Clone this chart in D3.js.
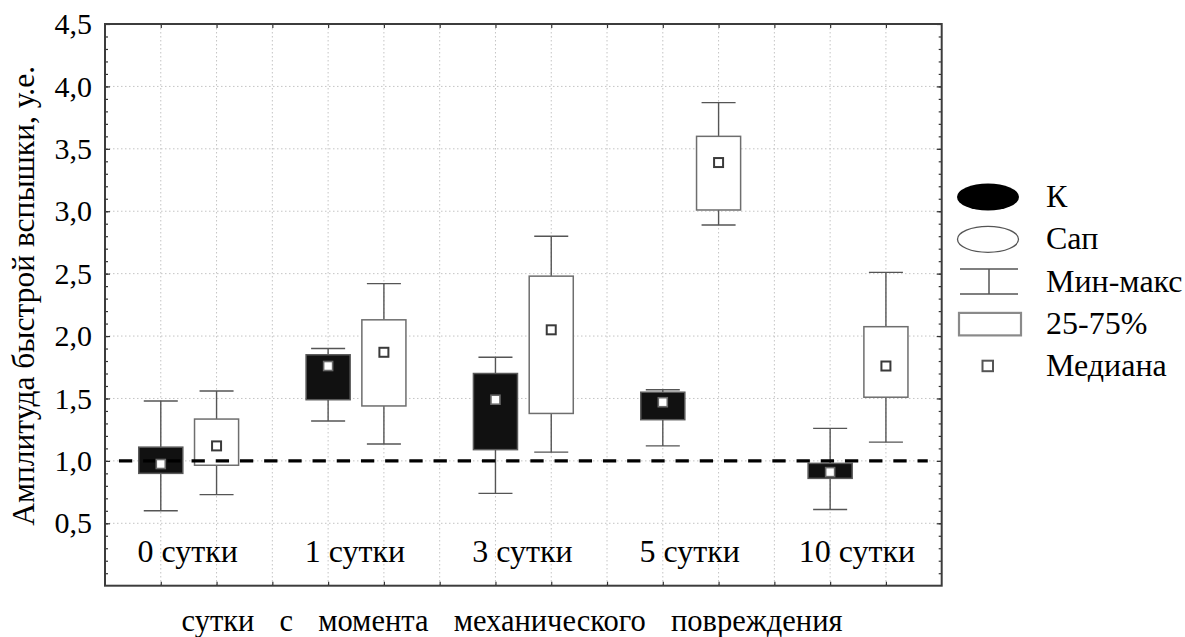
<!DOCTYPE html>
<html>
<head>
<meta charset="utf-8">
<script src="https://cdn.jsdelivr.net/npm/d3@7"></script>
<style>
  html, body { margin: 0; padding: 0; background: #fff; }
  svg { display: block; }
</style>
</head>
<body>
<svg id="chart" width="1185" height="637" font-family="Liberation Serif"></svg>
<script>
// Amplitude of the fast flash: control (К) vs. Сап groups, days after mechanical injury
const categories = ["0 сутки", "1 сутки", "3 сутки", "5 сутки", "10 сутки"];

const kMin = [0.60, 1.32, 0.74, 1.12, 0.61];
const kQ1  = [0.90, 1.49, 1.09, 1.33, 0.86];
const kMed = [0.975, 1.76, 1.49, 1.47, 0.91];
const kQ3  = [1.11, 1.85, 1.70, 1.55, 0.98];
const kMax = [1.48, 1.90, 1.83, 1.57, 1.26];

const sapMin = [0.73, 1.135, 1.07, 2.89, 1.15];
const sapQ1  = [0.965, 1.44, 1.38, 3.01, 1.51];
const sapMed = [1.12, 1.87, 2.05, 3.39, 1.76];
const sapQ3  = [1.335, 2.13, 2.48, 3.60, 2.075];
const sapMax = [1.56, 2.42, 2.80, 3.87, 2.51];

const yTicks = [0.5, 1.0, 1.5, 2.0, 2.5, 3.0, 3.5, 4.0, 4.5];
const referenceLevel = 1.0;

const legendLabels = ["К", "Сап", "Мин-макс", "25-75%", "Медиана"];
const yTitle = "Амплитуда быстрой вспышки, у.е.";
const xTitle = "сутки с момента механического повреждения";

const FONT = "Liberation Serif";

// ---- layout ----
const plot = { left: 105, right: 941.7, top: 24, bottom: 585.7 };
const slotsPerGroup = 3;                    // К, Сап, gap
const nSlots = categories.length * slotsPerGroup;

const x = d3.scaleLinear().domain([0, nSlots]).range([plot.left, plot.right]);
const y = d3.scaleLinear().domain([0, 4.5]).range([plot.bottom, plot.top]);

const boxW = x(0.79) - x(0);
const capW = x(0.61) - x(0);

const svg = d3.select("#chart");

// ---- grid ----
const grid = svg.append("g").attr("stroke", "#c4c4c4").attr("stroke-width", 1)
  .attr("stroke-dasharray", "1.5,2.5");
grid.selectAll("line.v").data(d3.range(1, nSlots)).join("line")
  .attr("class", "v")
  .attr("x1", d => x(d)).attr("x2", d => x(d))
  .attr("y1", plot.top).attr("y2", plot.bottom);
grid.selectAll("line.h").data(yTicks.filter(v => v < 4.5)).join("line")
  .attr("class", "h")
  .attr("x1", plot.left).attr("x2", plot.right)
  .attr("y1", d => y(d)).attr("y2", d => y(d));

// ---- series ----
const series = [
  { key: "К", offset: 1, min: kMin, q1: kQ1, med: kMed, q3: kQ3, max: kMax,
    fill: "#111", stroke: "#5a5a5a", medStroke: "#6a6a6a", medWidth: 1.6 },
  { key: "Сап", offset: 2, min: sapMin, q1: sapQ1, med: sapMed, q3: sapQ3, max: sapMax,
    fill: "#fff", stroke: "#6e6e6e", medStroke: "#3a3a3a", medWidth: 2 }
];

const rows = [];
series.forEach(s => categories.forEach((c, i) => rows.push({
  s, cx: x(i * slotsPerGroup + s.offset),
  min: s.min[i], q1: s.q1[i], med: s.med[i], q3: s.q3[i], max: s.max[i]
})));

const marks = svg.append("g");
const wh = marks.append("g").attr("stroke", "#555").attr("stroke-width", 1.4);
rows.forEach(r => {
  wh.append("line").attr("x1", r.cx).attr("x2", r.cx).attr("y1", y(r.max)).attr("y2", y(r.q3));
  wh.append("line").attr("x1", r.cx).attr("x2", r.cx).attr("y1", y(r.q1)).attr("y2", y(r.min));
  wh.append("line").attr("x1", r.cx - capW / 2).attr("x2", r.cx + capW / 2).attr("y1", y(r.max)).attr("y2", y(r.max));
  wh.append("line").attr("x1", r.cx - capW / 2).attr("x2", r.cx + capW / 2).attr("y1", y(r.min)).attr("y2", y(r.min));
});
marks.selectAll("rect.box").data(rows).join("rect")
  .attr("class", "box")
  .attr("x", d => d.cx - boxW / 2).attr("width", boxW)
  .attr("y", d => y(d.q3)).attr("height", d => y(d.q1) - y(d.q3))
  .attr("fill", d => d.s.fill).attr("stroke", d => d.s.stroke).attr("stroke-width", 1.5);

// reference level
svg.append("line")
  .attr("x1", x(0.25)).attr("x2", x(nSlots - 0.25))
  .attr("y1", y(referenceLevel)).attr("y2", y(referenceLevel))
  .attr("stroke", "#000").attr("stroke-width", 3.2).attr("stroke-dasharray", "13.3,10.9");

// medians
const medS = 9;
svg.append("g").selectAll("rect").data(rows).join("rect")
  .attr("x", d => d.cx - medS / 2).attr("y", d => y(d.med) - medS / 2)
  .attr("width", medS).attr("height", medS)
  .attr("fill", "#fff").attr("stroke", d => d.s.medStroke).attr("stroke-width", d => d.s.medWidth);

// ---- axes ----
const fmt = d => d.toFixed(1).replace(".", ",");
const minor = d3.range(1, 45).map(d => d / 10);

const axLeft = svg.append("g").attr("transform", `translate(${plot.left},0)`);
axLeft.call(d3.axisLeft(y).tickValues(minor).tickSize(-3).tickFormat(""));
axLeft.append("g").call(d3.axisLeft(y).tickValues(yTicks).tickSize(-5).tickPadding(13).tickFormat(fmt));

const axRight = svg.append("g").attr("transform", `translate(${plot.right},0)`);
axRight.call(d3.axisRight(y).tickValues(minor).tickSize(-3).tickFormat(""));
axRight.append("g").call(d3.axisRight(y).tickValues(yTicks).tickSize(-5).tickFormat(""));

const axTop = svg.append("g").attr("transform", `translate(0,${plot.top})`);
axTop.call(d3.axisTop(x).tickValues(d3.range(1, nSlots)).tickSize(-4).tickFormat(""));
const axBottom = svg.append("g").attr("transform", `translate(0,${plot.bottom})`);
axBottom.call(d3.axisBottom(x).tickValues(d3.range(1, nSlots)).tickSize(-4).tickFormat(""));

svg.selectAll(".domain").remove();
svg.selectAll(".tick line").attr("stroke", "#333").attr("stroke-width", 1.2);
svg.selectAll("g[font-family]").attr("font-family", FONT).attr("font-size", null);
axLeft.selectAll("text").attr("font-size", 30);

// frame
svg.append("rect")
  .attr("x", plot.left).attr("y", plot.top)
  .attr("width", plot.right - plot.left).attr("height", plot.bottom - plot.top)
  .attr("fill", "none").attr("stroke", "#3c3c3c").attr("stroke-width", 2);

// category labels
svg.append("g").selectAll("text").data(categories).join("text")
  .attr("x", (d, i) => x(i * slotsPerGroup + 1.5) - 1)
  .attr("y", 562)
  .attr("text-anchor", "middle")
  .attr("font-size", 32)
  .text(d => d);

// axis titles
svg.append("text")
  .attr("transform", `translate(34,${(plot.top + plot.bottom) / 2 - 9}) rotate(-90)`)
  .attr("text-anchor", "middle").attr("font-size", 31.5)
  .text(yTitle);

const xt = svg.append("text")
  .attr("x", 512).attr("y", 631)
  .attr("text-anchor", "middle").attr("font-size", 30.5)
  .text(xTitle);

// ---- legend ----
const lg = svg.append("g");
const rowY = i => 197 + i * 42.3;
const iconX = 988;
lg.append("ellipse").attr("cx", iconX).attr("cy", rowY(0)).attr("rx", 31).attr("ry", 13.5)
  .attr("fill", "#000");
lg.append("ellipse").attr("cx", iconX).attr("cy", rowY(1)).attr("rx", 30.5).attr("ry", 13)
  .attr("fill", "#fff").attr("stroke", "#555").attr("stroke-width", 1.3);
const mm = lg.append("g").attr("stroke", "#555").attr("stroke-width", 1.5);
mm.append("line").attr("x1", iconX - 28).attr("x2", iconX + 30).attr("y1", rowY(2) - 12.5).attr("y2", rowY(2) - 12.5);
mm.append("line").attr("x1", iconX - 28).attr("x2", iconX + 30).attr("y1", rowY(2) + 12.5).attr("y2", rowY(2) + 12.5);
mm.append("line").attr("x1", iconX + 1).attr("x2", iconX + 1).attr("y1", rowY(2) - 12.5).attr("y2", rowY(2) + 12.5);
lg.append("rect").attr("x", iconX - 29).attr("y", rowY(3) - 11).attr("width", 62).attr("height", 22.5)
  .attr("fill", "#fff").attr("stroke", "#8a8a8a").attr("stroke-width", 2.2);
lg.append("rect").attr("x", iconX - 5.5).attr("y", rowY(4) - 5.5).attr("width", 10.5).attr("height", 10.5)
  .attr("fill", "#fff").attr("stroke", "#555").attr("stroke-width", 2);

lg.selectAll("text").data(legendLabels).join("text")
  .attr("x", 1046).attr("y", (d, i) => rowY(i) + 10)
  .attr("font-size", 32)
  .text(d => d);

// serif face for every label
svg.selectAll("text").attr("font-family", FONT).attr("fill", "#000");

// spread the words of the x title over its span
{
  const natural = xt.node().getComputedTextLength();
  const gaps = xTitle.split(" ").length - 1;
  xt.attr("word-spacing", Math.max(0, (661 - natural) / gaps));
}
</script>
</body>
</html>
